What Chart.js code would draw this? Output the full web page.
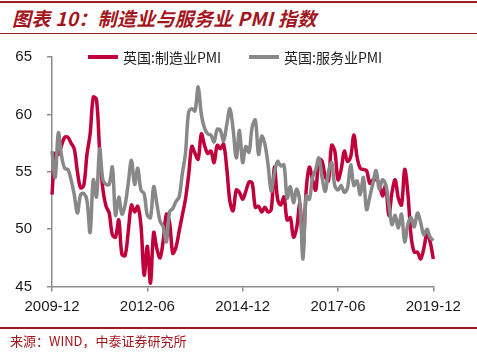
<!DOCTYPE html>
<html>
<head>
<meta charset="utf-8">
<script src="https://cdn.jsdelivr.net/npm/chart.js@4.4.1/dist/chart.umd.min.js"></script>
<style>
  body { margin: 0; width: 477px; height: 352px; background: #fff; position: relative; overflow: hidden;
         font-family: "Noto Sans CJK SC", sans-serif; }
  .rule { position: absolute; left: 0; width: 477px; background: #a01c22; }
  #title { position: absolute; left: 12px; top: 5px; font-size: 19px; font-weight: bold; font-style: italic;
           color: #a3161e; white-space: nowrap; line-height: 26px; letter-spacing: 0.3px; }
  #source { position: absolute; left: 10px; top: 332px; font-size: 13px; color: #a3161e; white-space: nowrap; line-height: 18px; }
  #wrap { position: absolute; left: 0; top: 0; width: 477px; height: 330px; }
  .leg { position: absolute; top: 48px; font-size: 14px; color: #222; white-space: nowrap; line-height: 18px; }
  .leg i { position: absolute; left: -35px; top: 7px; width: 30px; height: 4px; }
</style>
</head>
<body>
<div class="rule" style="top:1px;height:2px"></div>
<div id="title">图表 10：制造业与服务业 PMI 指数</div>
<div class="rule" style="top:33px;height:1px"></div>
<div id="wrap"><canvas id="pmi" width="477" height="330"></canvas></div>
<div class="leg" id="leg0" style="left:123px"><i></i><span></span></div>
<div class="leg" id="leg1" style="left:284px"><i></i><span></span></div>
<div class="rule" style="top:327px;height:1.5px"></div>
<div id="source">来源：WIND，中泰证券研究所</div>

<script>
// monthly, 2009-12 .. 2019-12
const startYear = 2009, startMonth = 12, monthCount = 121;
const tickLabels = ['2009-12', '2012-06', '2014-12', '2017-06', '2019-12'];
const seriesNames = ['英国:制造业PMI', '英国:服务业PMI'];
const seriesColors = ['#c0003a', '#888888'];

const manufacturing = [
  53.0,
  56.6, 56.5, 57.3, 58.0, 58.0, 57.5, 57.0, 55.0, 53.6, 53.8, 56.5, 58.3,
  61.5, 61.3, 56.8, 53.5, 52.0, 51.4, 49.5, 49.3, 50.8, 47.8, 47.7, 49.8,
  52.1, 51.5, 52.0, 50.3, 46.0, 48.5, 45.3, 49.7, 48.3, 47.5, 49.0, 51.3,
  50.6, 47.9, 48.4, 49.8, 51.2, 52.6, 54.7, 57.2, 56.6, 56.1, 58.3, 57.3,
  56.6, 56.8, 55.8, 57.3, 57.0, 57.4, 55.3, 52.4, 51.6, 53.4, 53.2, 52.6,
  53.3, 54.1, 54.0, 51.9, 52.0, 51.5, 51.9, 51.5, 51.7, 55.4, 52.6, 52.1,
  52.8, 50.8, 51.0, 49.3, 50.1, 52.2, 48.4, 53.4, 55.4, 54.3, 53.4, 56.1,
  55.9, 54.6, 54.2, 57.3, 56.8, 54.3, 55.2, 56.8, 55.9, 56.3, 58.2, 56.3,
  55.3, 55.2, 55.1, 54.0, 54.3, 54.3, 54.0, 52.9, 53.8, 51.2, 53.2, 54.3,
  52.7, 52.1, 55.2, 53.1, 49.4, 48.0, 48.0, 47.4, 48.3, 49.6, 48.9, 47.4
];

const services = [
  56.8,
  54.5, 58.4, 56.4, 55.3, 55.2, 54.3, 53.0, 51.4, 53.0, 53.1, 52.5, 49.7,
  54.3, 52.8, 57.0, 54.3, 53.9, 53.9, 55.4, 51.2, 52.8, 51.3, 52.1, 54.0,
  56.0, 53.9, 55.3, 53.4, 53.1, 51.2, 51.0, 53.7, 52.2, 50.7, 50.2, 48.9,
  51.5, 51.8, 52.4, 52.8, 54.8, 56.6, 60.2, 60.5, 60.3, 62.4, 60.0, 58.8,
  58.3, 58.2, 57.6, 58.7, 58.6, 57.7, 59.1, 60.5, 58.7, 56.2, 58.6, 55.8,
  57.2, 56.7, 58.9, 59.5, 56.5, 58.1, 57.4, 55.6, 53.3, 54.9, 55.9, 55.5,
  55.6, 52.7, 53.7, 52.3, 53.5, 52.3, 47.4, 52.9, 52.6, 54.5, 55.2, 56.2,
  54.5, 53.3, 55.0, 55.8, 53.8, 53.4, 53.8, 53.2, 53.6, 55.6, 53.8, 54.2,
  53.0, 54.5, 51.7, 52.8, 54.0, 55.1, 53.5, 54.3, 53.9, 52.2, 50.4, 51.2,
  50.1, 51.3, 48.9, 50.4, 51.0, 50.2, 51.4, 50.6, 49.5, 50.0, 49.3, 49.0
];

const months = [];
for (let k = 0; k < monthCount; k++) {
  const m = (startMonth - 1 + k) % 12 + 1;
  const y = startYear + Math.floor((startMonth - 1 + k) / 12);
  months.push(y + '-' + String(m).padStart(2, '0'));
}

// html legend
[0, 1].forEach(function(i) {
  const el = document.getElementById('leg' + i);
  el.querySelector('i').style.background = seriesColors[i];
  el.querySelector('span').textContent = seriesNames[i];
});

const axisColor = '#8c8c8c';
const tickFont = { family: '"Liberation Sans", Arial, sans-serif', size: 15 };

new Chart(document.getElementById('pmi'), {
  type: 'line',
  data: {
    labels: months,
    datasets: [
      { label: seriesNames[0], data: manufacturing, borderColor: seriesColors[0], borderWidth: 3.5,
        pointRadius: 0, tension: 0.35, fill: false, order: 1 },
      { label: seriesNames[1], data: services, borderColor: seriesColors[1], borderWidth: 3.5,
        pointRadius: 0, tension: 0.35, fill: false, order: 0 }
    ]
  },
  options: {
    responsive: false,
    animation: false,
    clip: false,
    layout: { padding: { top: 57, right: 43.7, bottom: 13.5, left: 0 } },
    plugins: { legend: { display: false }, tooltip: { enabled: false } },
    scales: {
      x: {
        offset: false,
        border: { display: true, color: axisColor, width: 1.5 },
        grid: {
          drawOnChartArea: false, drawTicks: true, tickLength: 5, lineWidth: 1.5,
          tickColor: ctx => (ctx.tick && ctx.tick.label) ? axisColor : 'rgba(0,0,0,0)'
        },
        ticks: {
          autoSkip: false, maxRotation: 0, padding: 6, color: '#1a1a1a', font: tickFont,
          callback: function(value, index) {
            return tickLabels.includes(months[index]) ? months[index] : '';
          }
        },
        afterFit: axis => { axis.height = 30; }
      },
      y: {
        min: 45, max: 65,
        border: { display: true, color: axisColor, width: 1.5 },
        grid: { drawOnChartArea: false, drawTicks: true, tickLength: 5, lineWidth: 1.5, tickColor: axisColor },
        ticks: { stepSize: 5, padding: 15, color: '#1a1a1a', font: tickFont },
        afterFit: axis => { axis.width = 52; }
      }
    }
  }
});
</script>
</body>
</html>
